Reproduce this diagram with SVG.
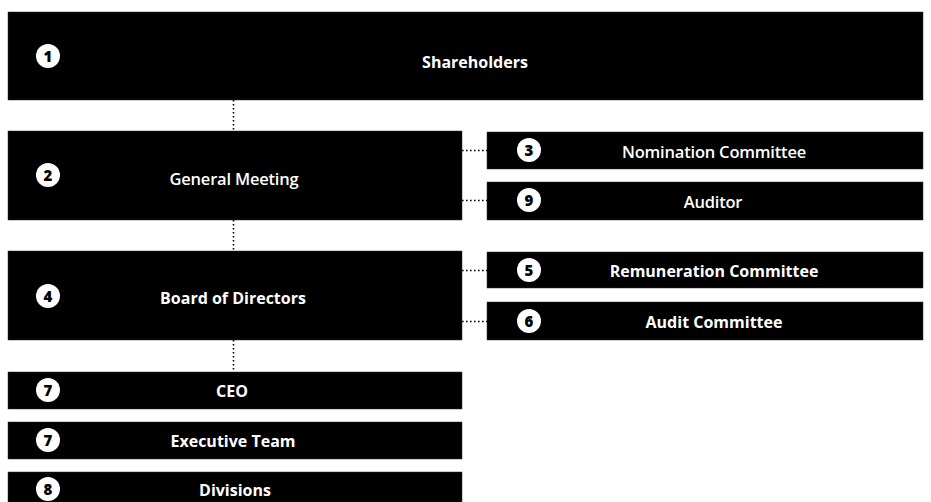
<svg xmlns="http://www.w3.org/2000/svg" width="931" height="502" viewBox="0 0 931 502">
<defs>
<style>
.box{fill:#000;stroke:#333;stroke-width:0.5}
.lbl{fill:#fff;font-family:"Open Sans","Liberation Sans",sans-serif;font-size:16px;text-anchor:middle;dominant-baseline:central}
.b{font-weight:700}
.r{font-weight:600;font-size:16.5px;letter-spacing:-0.2px}
.num circle{fill:#fff}
.num text{fill:#000;font-family:"Open Sans","Liberation Sans",sans-serif;font-size:15px;font-weight:800;text-anchor:middle;dominant-baseline:central}
.con{stroke:#000;stroke-width:1.6;stroke-dasharray:1.6 2.4;fill:none}
</style>
</defs>
<rect width="931" height="502" fill="#fff"/>
<g id="connectors">
<line class="con" x1="233.5" y1="100" x2="233.5" y2="131"/>
<line class="con" x1="233.5" y1="220" x2="233.5" y2="251"/>
<line class="con" x1="233.5" y1="340" x2="233.5" y2="372"/>
<line class="con" x1="462" y1="150.5" x2="487" y2="150.5"/>
<line class="con" x1="462" y1="200.5" x2="487" y2="200.5"/>
<line class="con" x1="462" y1="270.5" x2="487" y2="270.5"/>
<line class="con" x1="462" y1="321.5" x2="487" y2="321.5"/>
</g>
<g id="shareholders">
<rect class="box" x="8" y="12" width="915" height="88"/>
<g class="num"><circle cx="48" cy="56" r="12"/><text x="48" y="56">1</text></g>
<text class="lbl b" x="475" y="62">Shareholders</text>
</g>
<g id="general-meeting">
<rect class="box" x="8" y="131" width="454" height="89"/>
<g class="num"><circle cx="48" cy="175" r="12"/><text x="48" y="175">2</text></g>
<text class="lbl r" x="234" y="178">General Meeting</text>
</g>
<g id="nomination-committee">
<rect class="box" x="487" y="132" width="436" height="37"/>
<g class="num"><circle cx="529" cy="150" r="12"/><text x="529" y="150">3</text></g>
<text class="lbl r" x="714" y="151">Nomination Committee</text>
</g>
<g id="auditor">
<rect class="box" x="487" y="182" width="436" height="38"/>
<g class="num"><circle cx="529" cy="200" r="12"/><text x="529" y="200">9</text></g>
<text class="lbl r" x="713" y="201">Auditor</text>
</g>
<g id="board">
<rect class="box" x="8" y="251" width="454" height="89"/>
<g class="num"><circle cx="48" cy="296" r="12"/><text x="48" y="296">4</text></g>
<text class="lbl b" x="233" y="298">Board of Directors</text>
</g>
<g id="remuneration-committee">
<rect class="box" x="487" y="252" width="436" height="36"/>
<g class="num"><circle cx="529" cy="270" r="12"/><text x="529" y="270">5</text></g>
<text class="lbl b" x="714" y="271">Remuneration Committee</text>
</g>
<g id="audit-committee">
<rect class="box" x="487" y="302" width="436" height="38"/>
<g class="num"><circle cx="529" cy="321" r="12"/><text x="529" y="321">6</text></g>
<text class="lbl b" x="714" y="322">Audit Committee</text>
</g>
<g id="ceo">
<rect class="box" x="8" y="372" width="454" height="37"/>
<g class="num"><circle cx="48" cy="390" r="12"/><text x="48" y="390">7</text></g>
<text class="lbl b" x="232" y="391">CEO</text>
</g>
<g id="executive-team">
<rect class="box" x="8" y="422" width="454" height="37"/>
<g class="num"><circle cx="48" cy="440" r="12"/><text x="48" y="440">7</text></g>
<text class="lbl b" x="233" y="441">Executive Team</text>
</g>
<g id="divisions">
<rect class="box" x="8" y="472" width="454" height="40"/>
<g class="num"><circle cx="48" cy="489" r="12"/><text x="48" y="489">8</text></g>
<text class="lbl b" x="235" y="490">Divisions</text>
</g>
</svg>
